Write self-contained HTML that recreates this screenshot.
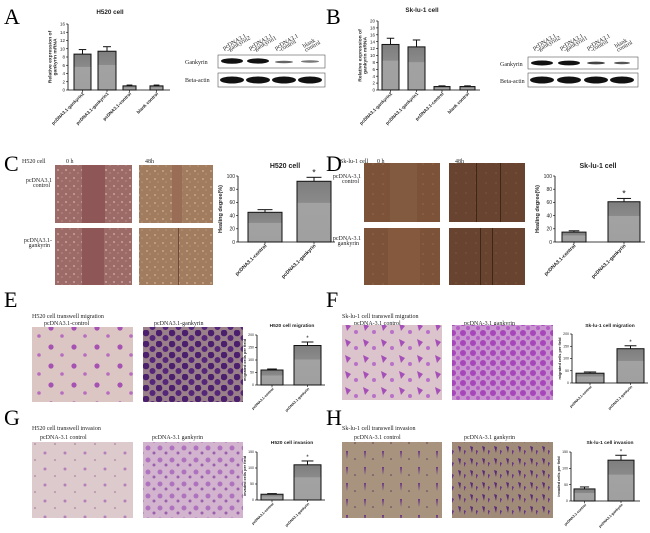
<!DOCTYPE html>
<html><head><meta charset="utf-8"><style>
html,body{margin:0;padding:0;background:#fff;width:650px;height:533px;overflow:hidden}
svg{display:block}
.L{font-family:"Liberation Serif",serif;font-size:22px;fill:#000}
.s{font-family:"Liberation Serif",serif;font-size:6px;fill:#222}
.a{font-family:"Liberation Sans",sans-serif;fill:#222}
</style></head><body>
<svg id="fig" width="650" height="533" viewBox="0 0 650 533" xmlns="http://www.w3.org/2000/svg">
<defs>
<linearGradient id="barg" x1="0" y1="0" x2="0" y2="1"><stop offset="0" stop-color="#7e7e7e"/><stop offset="0.35" stop-color="#8a8a8a"/><stop offset="0.36" stop-color="#a2a2a2"/><stop offset="1" stop-color="#a0a0a0"/></linearGradient>
<pattern id="pC" width="8" height="8" patternUnits="userSpaceOnUse"><rect width="8" height="8" fill="#9c6b68"/><circle cx="2" cy="2" r="1" fill="#c9a0a0"/><circle cx="6" cy="5" r="0.8" fill="#b88c8a"/></pattern>
<pattern id="pC2" width="8" height="8" patternUnits="userSpaceOnUse"><rect width="8" height="8" fill="#a27c5e"/><circle cx="3" cy="3" r="1" fill="#c7a48a"/><circle cx="6" cy="6" r="0.8" fill="#b8967a"/></pattern>
<pattern id="pD" width="10" height="10" patternUnits="userSpaceOnUse"><rect width="10" height="10" fill="#7c5238"/><circle cx="3" cy="4" r="0.8" fill="#94694d"/></pattern>
<pattern id="pD2" width="10" height="10" patternUnits="userSpaceOnUse"><rect width="10" height="10" fill="#674330"/><circle cx="6" cy="3" r="0.8" fill="#7d5840"/></pattern>
<pattern id="pE1" width="23" height="19" patternUnits="userSpaceOnUse"><rect width="23" height="19" fill="#dcc6c4"/><circle cx="5" cy="5" r="2.6" fill="#a652b2"/><circle cx="16" cy="13" r="1.8" fill="#b76cc0"/></pattern>
<pattern id="pE2" width="13" height="11" patternUnits="userSpaceOnUse"><rect width="13" height="11" fill="#9a8088"/><circle cx="3" cy="3" r="3.3" fill="#4b1f6e"/><circle cx="9.5" cy="8" r="3" fill="#55267a"/></pattern>
<pattern id="pF1" width="18" height="16" patternUnits="userSpaceOnUse"><rect width="18" height="16" fill="#dcc4cc"/><path d="M3 3 L9 6 L5 11Z" fill="#a550b8"/><circle cx="14" cy="12" r="2" fill="#b870c8"/></pattern>
<pattern id="pF2" width="10" height="10" patternUnits="userSpaceOnUse"><rect width="10" height="10" fill="#c995cf"/><circle cx="3" cy="3" r="3" fill="#a746ba"/><circle cx="8" cy="8" r="2" fill="#b35cc6"/></pattern>
<pattern id="pG1" width="20" height="16" patternUnits="userSpaceOnUse"><rect width="20" height="16" fill="#ddcacc"/><circle cx="5" cy="5" r="1.5" fill="#b57fb8"/><circle cx="15" cy="12" r="0.8" fill="#9a7090"/></pattern>
<pattern id="pG2" width="12" height="12" patternUnits="userSpaceOnUse"><rect width="12" height="12" fill="#d2b4ce"/><circle cx="4" cy="4" r="2.5" fill="#ae72be"/><circle cx="10" cy="9" r="1.5" fill="#9a5fae"/></pattern>
<pattern id="pH1" width="18" height="16" patternUnits="userSpaceOnUse"><rect width="18" height="16" fill="#a8937f"/><path d="M4 3 L6 3 L5 11Z" fill="#6a3880"/><circle cx="13" cy="11" r="0.8" fill="#5a3f58"/></pattern>
<pattern id="pH2" width="12" height="12" patternUnits="userSpaceOnUse"><rect width="12" height="12" fill="#a08a78"/><path d="M2 2 L5 3 L4 9Z" fill="#5a2a78"/><path d="M8 6 L10 7 L8 11Z" fill="#6a3488"/></pattern>
</defs>

<text class="L" x="4" y="24">A</text>
<text class="L" x="326" y="24">B</text>
<text class="L" x="4" y="171">C</text>
<text class="L" x="326" y="171">D</text>
<text class="L" x="4" y="307">E</text>
<text class="L" x="326" y="307">F</text>
<text class="L" x="4" y="425">G</text>
<text class="L" x="326" y="425">H</text>

<g>
<text class="s" font-size="5" x="185" y="64">Gankyrin</text>
<text class="s" font-size="5" x="185" y="82">Beta-actin</text>
<rect x="218" y="55" width="107" height="13" fill="#fff" stroke="#555" stroke-width="0.6"/>
<rect x="218" y="73" width="107" height="14" fill="#fff" stroke="#555" stroke-width="0.6"/>
<ellipse cx="232" cy="61" rx="11" ry="2.8" fill="#111"/><ellipse cx="258" cy="61" rx="11" ry="2.6" fill="#111"/>
<ellipse cx="284" cy="62" rx="9" ry="1.2" fill="#666"/><ellipse cx="310" cy="61.5" rx="9" ry="1.2" fill="#777"/>
<ellipse cx="232" cy="80" rx="12" ry="3.5" fill="#111"/><ellipse cx="258" cy="80" rx="12" ry="3.5" fill="#111"/>
<ellipse cx="284" cy="80" rx="12" ry="3.5" fill="#111"/><ellipse cx="310" cy="80" rx="12" ry="3.5" fill="#111"/>
<text class="s" font-size="4.5" transform="translate(224,50) rotate(-30)">pcDNA3.1</text><text class="s" font-size="4.5" transform="translate(228,52) rotate(-30)">-gankyrin2</text>
<text class="s" font-size="4.5" transform="translate(250,50) rotate(-30)">pcDNA3.1</text><text class="s" font-size="4.5" transform="translate(254,52) rotate(-30)">-gankyrin1</text>
<text class="s" font-size="4.5" transform="translate(276,50) rotate(-30)">pcDNA3.1</text><text class="s" font-size="4.5" transform="translate(280,52) rotate(-30)">-control</text>
<text class="s" font-size="4.5" transform="translate(304,48) rotate(-30)">blank</text><text class="s" font-size="4.5" transform="translate(306,52) rotate(-30)">control</text>
</g>
<g>
<text class="s" font-size="5" x="500" y="66">Gankyrin</text>
<text class="s" font-size="5" x="500" y="83">Beta-actin</text>
<rect x="528" y="57" width="110" height="12" fill="#fff" stroke="#555" stroke-width="0.6"/>
<rect x="528" y="73" width="110" height="14" fill="#fff" stroke="#555" stroke-width="0.6"/>
<ellipse cx="542" cy="63" rx="11" ry="2.5" fill="#111"/><ellipse cx="569" cy="63" rx="11" ry="2.4" fill="#111"/>
<ellipse cx="596" cy="63" rx="9" ry="1.4" fill="#444"/><ellipse cx="622" cy="63" rx="8" ry="1.2" fill="#555"/>
<ellipse cx="542" cy="80" rx="12" ry="3.5" fill="#111"/><ellipse cx="569" cy="80" rx="12" ry="3.5" fill="#111"/>
<ellipse cx="596" cy="80" rx="12" ry="3.5" fill="#111"/><ellipse cx="622" cy="80" rx="12" ry="3.5" fill="#111"/>
<text class="s" font-size="4.5" transform="translate(534,50) rotate(-30)">pcDNA3.1</text><text class="s" font-size="4.5" transform="translate(538,52) rotate(-30)">-gankyrin2</text>
<text class="s" font-size="4.5" transform="translate(561,50) rotate(-30)">pcDNA3.1</text><text class="s" font-size="4.5" transform="translate(565,52) rotate(-30)">-gankyrin1</text>
<text class="s" font-size="4.5" transform="translate(588,50) rotate(-30)">pcDNA3.1</text><text class="s" font-size="4.5" transform="translate(592,52) rotate(-30)">-control</text>
<text class="s" font-size="4.5" transform="translate(616,48) rotate(-30)">blank</text><text class="s" font-size="4.5" transform="translate(618,52) rotate(-30)">control</text>
</g>

<g>
<text class="s" font-size="4" x="22" y="163">H520 cell</text><text class="s" font-size="4" x="66" y="163">0 h</text><text class="s" font-size="4" x="145" y="163">48h</text>
<text class="s" font-size="4" x="52" y="182" text-anchor="end">pcDNA3.1</text><text class="s" font-size="4" x="50" y="187" text-anchor="end">control</text>
<text class="s" font-size="4" x="52" y="242" text-anchor="end">pcDNA3.1-</text><text class="s" font-size="4" x="50" y="247" text-anchor="end">gankyrin</text>
<rect x="55" y="165" width="77" height="58" fill="url(#pC)"/><rect x="82" y="165" width="23" height="58" fill="#8e5656"/>
<rect x="139" y="165" width="74" height="58" fill="url(#pC2)"/><rect x="172" y="165" width="10" height="58" fill="#9a6e56"/>
<rect x="55" y="228" width="77" height="57" fill="url(#pC)"/><rect x="82" y="228" width="22" height="57" fill="#8e5656"/>
<rect x="139" y="228" width="74" height="57" fill="url(#pC2)"/><rect x="178" y="228" width="1" height="57" fill="#6e4a3a"/>
</g>
<g>
<text class="s" font-size="4" x="340" y="163">Sk-lu-1 cell</text><text class="s" font-size="4" x="377" y="163">0 h</text><text class="s" font-size="4" x="455" y="163">48h</text>
<text class="s" font-size="4" x="361" y="178" text-anchor="end">pcDNA-3.1</text><text class="s" font-size="4" x="359" y="183" text-anchor="end">control</text>
<text class="s" font-size="4" x="361" y="240" text-anchor="end">pcDNA-3.1</text><text class="s" font-size="4" x="359" y="245" text-anchor="end">gankyrin</text>
<rect x="364" y="163" width="76" height="59" fill="url(#pD)"/><rect x="390" y="163" width="27" height="59" fill="#825a40"/>
<rect x="449" y="163" width="76" height="59" fill="url(#pD2)"/><rect x="476" y="163" width="1" height="59" fill="#3e2618"/><rect x="500" y="163" width="1" height="59" fill="#3e2618"/>
<rect x="364" y="228" width="76" height="57" fill="url(#pD)"/><rect x="388" y="228" width="32" height="57" fill="#84593e"/>
<rect x="449" y="228" width="76" height="57" fill="url(#pD2)"/><rect x="480" y="228" width="1" height="57" fill="#3e2618"/><rect x="492" y="228" width="1" height="57" fill="#3e2618"/>
</g>

<g>
<text class="s" x="32" y="318">H520 cell transwell migration</text>
<text class="s" x="44" y="325">pcDNA3.1-control</text><text class="s" x="154" y="325">pcDNA3.1-gankyrin</text>
<rect x="32" y="327" width="101" height="75" fill="url(#pE1)"/><rect x="143" y="327" width="100" height="75" fill="url(#pE2)"/>
</g>
<g>
<text class="s" x="342" y="318">Sk-lu-1 cell transwell migration</text>
<text class="s" x="354" y="325">pcDNA-3.1 control</text><text class="s" x="464" y="325">pcDNA-3.1 gankyrin</text>
<rect x="342" y="325" width="100" height="75" fill="url(#pF1)"/><rect x="452" y="325" width="101" height="75" fill="url(#pF2)"/>
</g>
<g>
<text class="s" x="32" y="430">H520 cell transwell invasion</text>
<text class="s" x="40" y="439">pcDNA-3.1 control</text><text class="s" x="152" y="439">pcDNA-3.1 gankyrin</text>
<rect x="32" y="442" width="101" height="76" fill="url(#pG1)"/><rect x="143" y="442" width="100" height="76" fill="url(#pG2)"/>
</g>
<g>
<text class="s" x="342" y="430">Sk-lu-1 cell transwell invasion</text>
<text class="s" x="354" y="439">pcDNA-3.1 control</text><text class="s" x="464" y="439">pcDNA-3.1 gankyrin</text>
<rect x="342" y="442" width="100" height="76" fill="url(#pH1)"/><rect x="452" y="442" width="101" height="76" fill="url(#pH2)"/>
</g>
<g id="charts"></g>
</svg>
<script>
const catsA = ["pcDNA3.1-gankyrin2","pcDNA3.1-gankyrin1","pcDNA3.1-control","blank control"];
const valsA = [8.7, 9.4, 1.0, 1.0];
const errA = [9.8, 10.5, 1.2, 1.2];
const valsB = [13.2, 12.5, 1.0, 1.0];
const errB = [15, 14.5, 1.2, 1.2];
const cats2 = ["pcDNA3.1-control","pcDNA3.1-gankyrin"];
const valsC = [45, 92];
const errC = [49, 98];
const valsD = [15, 61];
const errD = [17, 66];
const valsE = [60, 158];
const errE = [64, 172];
const valsF = [40, 140];
const errF = [45, 152];
const valsG = [18, 110];
const errG = [20, 122];
const valsH = [37, 125];
const errH = [43, 140];
const ticksA = [0,2,4,6,8,10,12,14,16];
const ticksB = [0,2,4,6,8,10,12,14,16,18,20];
const ticksCD = [0,20,40,60,80,100];
const ticksEF = [0,50,100,150,200];
const ticksGH = [0,50,100,150];
const NS="http://www.w3.org/2000/svg";
const root=document.getElementById('charts');
function mk(tag,attrs,parent){const e=document.createElementNS(NS,tag);for(const k in attrs)e.setAttribute(k,attrs[k]);parent.appendChild(e);return e;}
function chart(o){
  const g=mk('g',{},root);
  
  
  const max=o.ticks[o.ticks.length-1];
  const y=v=>o.base-(v/max)*(o.base-o.top);
  const fs=o.fs;
  const t=mk('text',{x:o.tx,y:o.ty,'text-anchor':'middle','font-size':fs*1.4,'font-weight':'bold',class:'a'},g);t.textContent=o.title;
  
  
  const yl=mk('text',{transform:`translate(${o.x0-fs*3.2},${(o.top+o.base)/2}) rotate(-90)`,'text-anchor':'middle','font-size':fs*1.1,class:'a','font-weight':'bold'},g);
  
  
  o.ylab.forEach((s,i)=>{const ts=mk('tspan',{x:0,dy:i?fs*1.2:(o.ylab.length>1?-fs*0.5:0)},yl);ts.textContent=s;});
  mk('line',{x1:o.x0,y1:o.top,x2:o.x0,y2:o.base,stroke:'#000','stroke-width':0.8},g);
  mk('line',{x1:o.x0,y1:o.base,x2:o.xEnd,y2:o.base,stroke:'#000','stroke-width':0.8},g);
  o.ticks.forEach(tv=>{
    mk('line',{x1:o.x0-2,y1:y(tv),x2:o.x0,y2:y(tv),stroke:'#000','stroke-width':0.6},g);
    const tl=mk('text',{x:o.x0-3,y:y(tv)+fs*0.35,'text-anchor':'end','font-size':fs,class:'a'},g);tl.textContent=tv;
    
    
  });
  o.vals.forEach((v,i)=>{
    const [a,b]=o.bars[i];const cx=(a+b)/2;
    const r=mk('rect',{x:a,y:y(v),width:b-a,height:o.base-y(v),fill:'url(#barg)',stroke:'#111','stroke-width':1},g);
    
    
    mk('line',{x1:cx,y1:y(v),x2:cx,y2:y(o.errs[i]),stroke:'#111','stroke-width':1},g);
    mk('line',{x1:cx-(b-a)*0.22,y1:y(o.errs[i]),x2:cx+(b-a)*0.22,y2:y(o.errs[i]),stroke:'#111','stroke-width':1},g);
    if(o.star&&i===o.vals.length-1){const s=mk('text',{x:cx,y:y(o.errs[i])-2,'text-anchor':'middle','font-size':fs*1.8,class:'a'},g);s.textContent='*';}
    mk('line',{x1:cx,y1:o.base,x2:cx,y2:o.base+2,stroke:'#000','stroke-width':0.6},g);
    const cl=mk('text',{transform:`translate(${cx+2},${o.base+4}) rotate(-45)`,'text-anchor':'end','font-size':fs,class:'a','font-weight':'bold'},g);cl.textContent=o.cats[i];
    
    
  });
}
chart({name:'chart-a-h520-mrna',x0:68,top:24,base:90,xEnd:170,ticks:ticksA,vals:valsA,errs:errA,cats:catsA,bars:[[74,91],[98,116],[123,136],[150,163]],title:'H520 cell',tx:110,ty:14,ylab:['Relative expression of','gankyrin mRNA'],fs:4.5});
chart({name:'chart-b-sklu1-mrna',x0:378,top:21,base:90,xEnd:480,ticks:ticksB,vals:valsB,errs:errB,cats:catsA,bars:[[382,399],[408,425],[434,450],[460,475]],title:'Sk-lu-1 cell',tx:422,ty:12,ylab:['Relative expression of','gankyrin mRNA'],fs:4.5});
chart({name:'chart-c-h520-healing',x0:238,top:176,base:242,xEnd:335,ticks:ticksCD,vals:valsC,errs:errC,cats:cats2,bars:[[248,282],[297,331]],title:'H520 cell',tx:285,ty:168,ylab:['Healing degree(%)'],fs:5,star:true});
chart({name:'chart-d-sklu1-healing',x0:555,top:176,base:242,xEnd:645,ticks:ticksCD,vals:valsD,errs:errD,cats:cats2,bars:[[562,586],[608,640]],title:'Sk-lu-1 cell',tx:598,ty:168,ylab:['Healing degree(%)'],fs:5,star:true});
chart({name:'chart-e-h520-migration',x0:257,top:335,base:385,xEnd:325,ticks:ticksEF,vals:valsE,errs:errE,cats:cats2,bars:[[261,283],[294,321]],title:'H520 cell migration',tx:292,ty:327,ylab:['migrated cells per field'],fs:3.5,star:true});
chart({name:'chart-f-sklu1-migration',x0:572,top:334,base:383,xEnd:648,ticks:ticksEF,vals:valsF,errs:errF,cats:cats2,bars:[[576,604],[617,644]],title:'Sk-lu-1 cell migration',tx:610,ty:327,ylab:['migrated cells per field'],fs:3.5,star:true});
chart({name:'chart-g-h520-invasion',x0:257,top:452,base:500,xEnd:325,ticks:ticksGH,vals:valsG,errs:errG,cats:cats2,bars:[[261,283],[294,321]],title:'H520 cell invasion',tx:292,ty:444,ylab:['invaded cells per field'],fs:3.5,star:true});
chart({name:'chart-h-sklu1-invasion',x0:571,top:452,base:501,xEnd:640,ticks:ticksGH,vals:valsH,errs:errH,cats:cats2,bars:[[574,595],[608,634]],title:'Sk-lu-1 cell invasion',tx:610,ty:444,ylab:['invaded cells per field'],fs:3.5,star:true});
</script>
</body></html>
